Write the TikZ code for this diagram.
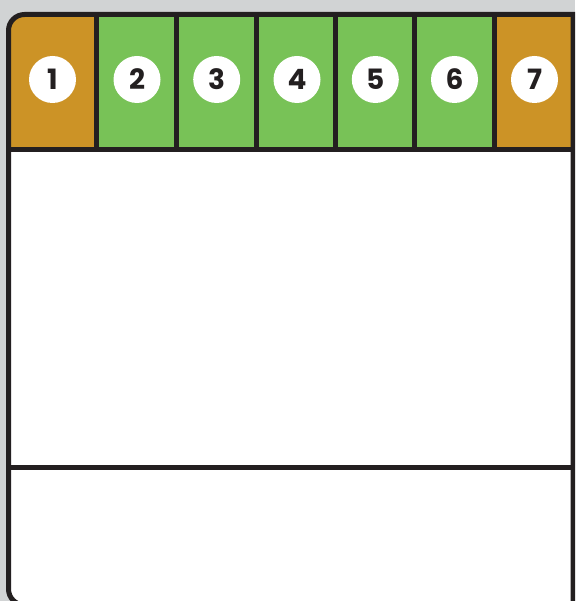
\documentclass[tikz,border=0pt]{standalone}
\usepackage{fontspec}
\setmainfont{Poppins}
\definecolor{gold}{HTML}{CC9326}
\definecolor{leaf}{HTML}{78C257}
\definecolor{ink}{HTML}{231F20}
\definecolor{bggray}{HTML}{D1D3D4}
\begin{document}
\begin{tikzpicture}[x=1pt,y=-1pt,
  frame/.style={draw=ink,line width=5pt},
  numdisc/.style={circle,fill=white,minimum size=47pt,inner sep=0pt,
    font=\fontsize{28}{28}\selectfont\bfseries,text=ink}]
\useasboundingbox (0,0) rectangle (575,601);
\begin{scope}
\clip (0,0) rectangle (575,601);
\fill[bggray] (0,0) rectangle (575,601);
% box background
\fill[white] (560,605) [rounded corners=16pt] -- (8.5,605) -- (8.5,14.5) -- (300,14.5) [sharp corners] -- (573,14.5) -- (573,610) -- (560,610) -- cycle;
% header cells
\fill[gold] (8.5,149.5) [rounded corners=16pt] -- (8.5,14.5) -- (50,14.5) [sharp corners] -- (96.5,14.5) -- (96.5,149.5) -- cycle;
\fill[leaf] (96.5,14.5) rectangle (494.5,149.5);
\fill[gold] (494.5,14.5) rectangle (573,149.5);
% dividers
\foreach \x in {96.5,176.5,256.7,335.3,414.5,494.5}
  \draw[frame] (\x,14.5) -- (\x,149.5);
\draw[frame] (8.5,149.5) -- (573,149.5);
\draw[frame] (8.5,467.5) -- (573,467.5);
% outer frame
\draw[frame] (560,605) [rounded corners=16pt] -- (8.5,605) -- (8.5,14.5) -- (300,14.5) [sharp corners] -- (573,14.5) -- (573,610);
\end{scope}
\node[numdisc] (n1) at (52.5,79.5) {1};
\node[numdisc] (n2) at (137,79.5) {2};
\node[numdisc] (n3) at (216.7,79.5) {3};
\node[numdisc] (n4) at (297,79.5) {4};
\node[numdisc] (n5) at (375.3,79.5) {5};
\node[numdisc] (n6) at (454.5,79.5) {6};
\node[numdisc] (n7) at (534.5,79.5) {7};
\end{tikzpicture}
\end{document}
